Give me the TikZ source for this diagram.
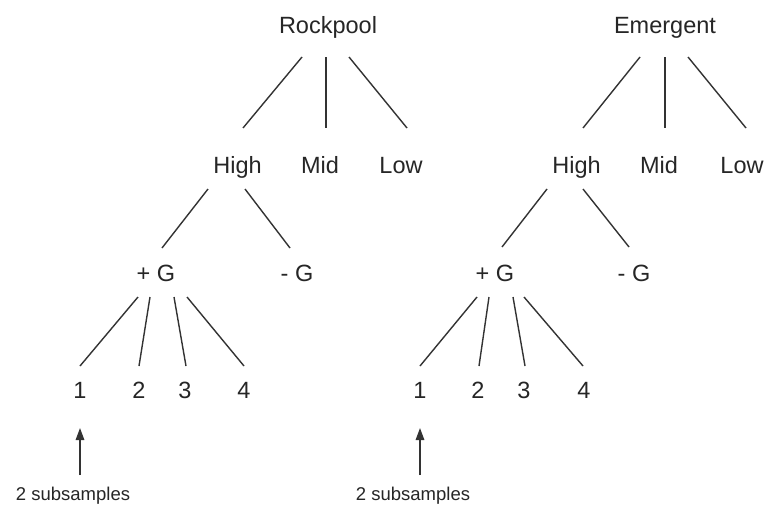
\documentclass[tikz,border=0pt]{standalone}
\usepackage{fontspec}
\setmainfont{Liberation Sans}
\usetikzlibrary{calc,arrows.meta}
\definecolor{ink}{HTML}{262626}
\definecolor{wire}{HTML}{333333}
\tikzset{
  lbl/.style={font=\fontsize{23.5}{26}\selectfont, text=ink, inner sep=0pt,
    text height=16.8pt, text depth=0pt},
  sublbl/.style={font=\fontsize{18.5}{21}\selectfont, text=ink, inner sep=0pt,
    text height=13.2pt, text depth=0pt},
  branch/.style={draw=wire, line width=1.4pt},
  uparrow/.style={draw=wire, line width=1.5pt, -{Triangle[length=12pt,width=8.5pt]}}
}
\begin{document}
\begin{tikzpicture}[x=1pt,y=-1pt]
\useasboundingbox[fill=white] (0,0) rectangle (765,506);
% left tree
\node[lbl] (rock) at (328,25) {Rockpool};
\node[lbl] (highL) at (237.5,165) {High};
\node[lbl] (midL) at (320,165) {Mid};
\node[lbl] (lowL) at (401,165) {Low};
\node[lbl] (pgL) at (156,273) {+ G};
\node[lbl] (mgL) at (297,273) {- G};
\node[lbl] (n1) at (80,390) {1};
\node[lbl] (n2) at (139,390) {2};
\node[lbl] (n3) at (185,390) {3};
\node[lbl] (n4) at (244,390) {4};
\node[sublbl] (subL) at (73,494) {2 subsamples};
% right tree
\node[lbl] (emer) at (665,25) {Emergent};
\node[lbl] (highR) at (576.5,165) {High};
\node[lbl] (midR) at (659,165) {Mid};
\node[lbl] (lowR) at (742,165) {Low};
\node[lbl] (pgR) at (495,273) {+ G};
\node[lbl] (mgR) at (634,273) {- G};
\node[lbl] (m1) at (420,390) {1};
\node[lbl] (m2) at (478,390) {2};
\node[lbl] (m3) at (524,390) {3};
\node[lbl] (m4) at (584,390) {4};
\node[sublbl] (subR) at (413,494) {2 subsamples};
% left connectors
\draw[branch] ($(rock)+(-26,32)$) -- ($(highL)+(5.5,-37)$);
\draw[branch] ($(rock)+(-2,32)$) -- ($(midL)+(6,-37)$);
\draw[branch] ($(rock)+(21,32)$) -- ($(lowL)+(6,-37)$);
\draw[branch] ($(highL)+(-29.5,24)$) -- ($(pgL)+(6,-25)$);
\draw[branch] ($(highL)+(7.5,24)$) -- ($(mgL)+(-7,-25)$);
\draw[branch] ($(pgL)+(-18,24)$) -- ($(n1)+(0,-24)$);
\draw[branch] ($(pgL)+(-6,24)$) -- ($(n2)+(0,-24)$);
\draw[branch] ($(pgL)+(18,24)$) -- ($(n3)+(1,-24)$);
\draw[branch] ($(pgL)+(31,24)$) -- ($(n4)+(0,-24)$);
\draw[uparrow] ($(subL)+(7,-19)$) -- ($(n1)+(0,38)$);
% right connectors
\draw[branch] ($(emer)+(-25,32)$) -- ($(highR)+(6.5,-37)$);
\draw[branch] ($(emer)+(0,32)$) -- ($(midR)+(6,-37)$);
\draw[branch] ($(emer)+(23,32)$) -- ($(lowR)+(4,-37)$);
\draw[branch] ($(highR)+(-29.5,24)$) -- ($(pgR)+(7,-26)$);
\draw[branch] ($(highR)+(6.5,24)$) -- ($(mgR)+(-5,-26)$);
\draw[branch] ($(pgR)+(-18,24)$) -- ($(m1)+(0,-24)$);
\draw[branch] ($(pgR)+(-6,24)$) -- ($(m2)+(1,-24)$);
\draw[branch] ($(pgR)+(18,24)$) -- ($(m3)+(1,-24)$);
\draw[branch] ($(pgR)+(29,24)$) -- ($(m4)+(-1,-24)$);
\draw[uparrow] ($(subR)+(7,-19)$) -- ($(m1)+(0,38)$);
\end{tikzpicture}
\end{document}
